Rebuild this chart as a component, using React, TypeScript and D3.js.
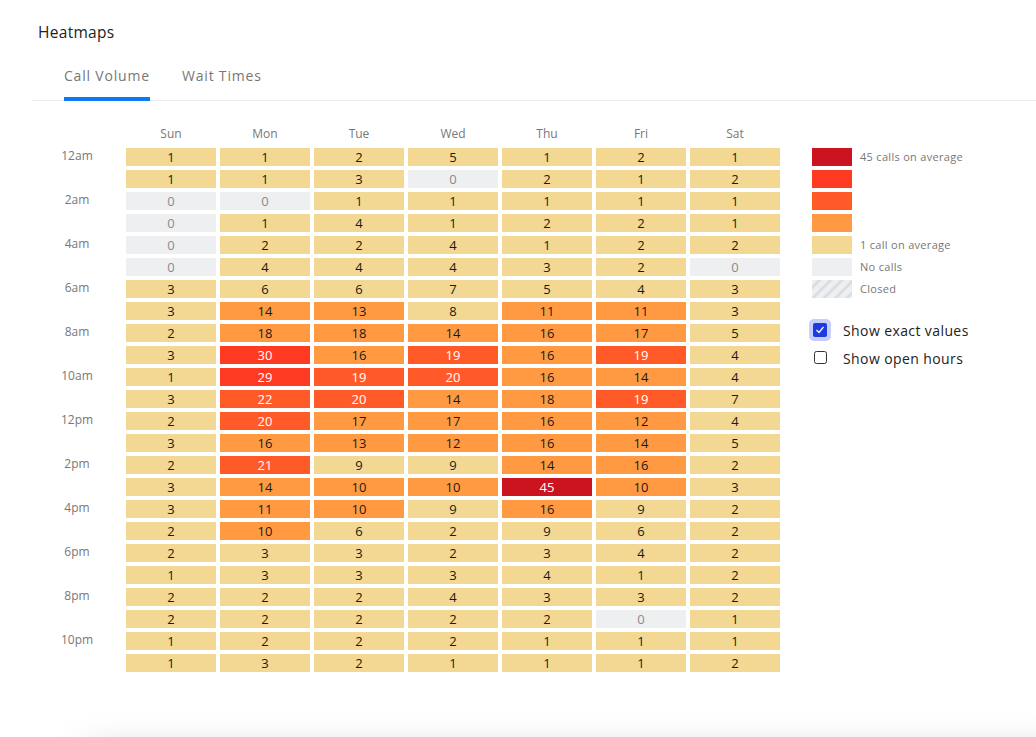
import * as d3 from "d3";
import React, { useEffect, useRef } from "react";

const days = ["Sun", "Mon", "Tue", "Wed", "Thu", "Fri", "Sat"];
const hours = [
  "12am", "1am", "2am", "3am", "4am", "5am", "6am", "7am", "8am", "9am", "10am", "11am",
  "12pm", "1pm", "2pm", "3pm", "4pm", "5pm", "6pm", "7pm", "8pm", "9pm", "10pm", "11pm",
];

// rows = hours, columns = Sun..Sat
const calls: number[][] = [
  [1, 1, 2, 5, 1, 2, 1],
  [1, 1, 3, 0, 2, 1, 2],
  [0, 0, 1, 1, 1, 1, 1],
  [0, 1, 4, 1, 2, 2, 1],
  [0, 2, 2, 4, 1, 2, 2],
  [0, 4, 4, 4, 3, 2, 0],
  [3, 6, 6, 7, 5, 4, 3],
  [3, 14, 13, 8, 11, 11, 3],
  [2, 18, 18, 14, 16, 17, 5],
  [3, 30, 16, 19, 16, 19, 4],
  [1, 29, 19, 20, 16, 14, 4],
  [3, 22, 20, 14, 18, 19, 7],
  [2, 20, 17, 17, 16, 12, 4],
  [3, 16, 13, 12, 16, 14, 5],
  [2, 21, 9, 9, 14, 16, 2],
  [3, 14, 10, 10, 45, 10, 3],
  [3, 11, 10, 9, 16, 9, 2],
  [2, 10, 6, 2, 9, 6, 2],
  [2, 3, 3, 2, 3, 4, 2],
  [1, 3, 3, 3, 4, 1, 2],
  [2, 2, 2, 4, 3, 3, 2],
  [2, 2, 2, 2, 2, 0, 1],
  [1, 2, 2, 2, 1, 1, 1],
  [1, 3, 2, 1, 1, 1, 2],
];

const colorSteps = ["#f2d892", "#ff9a42", "#ff5a27", "#ff3a22", "#cc1420"];
const thresholds = [10, 19, 28, 37];
const noCallsColor = "#eeeff1";
const legendLabels = ["45 calls on average", "", "", "", "1 call on average", "No calls", "Closed"];

const FONT = "'Open Sans', 'Noto Sans', sans-serif";

const App: React.FC = () => {
  const svgRef = useRef<SVGSVGElement | null>(null);

  useEffect(() => {
    const svg = d3.select(svgRef.current);
    svg.selectAll("*").remove();

    const color = d3.scaleThreshold<number, string>().domain(thresholds).range(colorSteps);

    const x = d3.scaleBand().domain(days).range([124, 782]).paddingInner(4 / 94).paddingOuter(2 / 94);
    const y = d3.scaleBand().domain(hours).range([146, 674]).paddingInner(4 / 22).paddingOuter(2 / 22);

    const defs = svg.append("defs");
    const pat = defs
      .append("pattern")
      .attr("id", "hatch")
      .attr("patternUnits", "userSpaceOnUse")
      .attr("width", 8)
      .attr("height", 8)
      .attr("patternTransform", "rotate(45)");
    pat.append("rect").attr("width", 8).attr("height", 8).attr("fill", "#eeeff1");
    pat.append("rect").attr("width", 3).attr("height", 8).attr("fill", "#dcdde1");

    const grad = defs
      .append("linearGradient")
      .attr("id", "shadow")
      .attr("x1", 0).attr("y1", 0).attr("x2", 0).attr("y2", 1);
    grad.append("stop").attr("offset", "0%").attr("stop-color", "#fff").attr("stop-opacity", 0);
    grad.append("stop").attr("offset", "100%").attr("stop-color", "#f4f4f4").attr("stop-opacity", 1);
    const fadeL = defs
      .append("linearGradient")
      .attr("id", "fadeL")
      .attr("x1", 0).attr("y1", 0).attr("x2", 1).attr("y2", 0);
    fadeL.append("stop").attr("offset", "0%").attr("stop-color", "#fff").attr("stop-opacity", 1);
    fadeL.append("stop").attr("offset", "100%").attr("stop-color", "#fff").attr("stop-opacity", 0);

    // header
    svg.append("text").attr("x", 38).attr("y", 38).attr("font-size", 15.5).attr("fill", "#222").attr("letter-spacing", 0.3).text("Heatmaps");
    svg.append("text").attr("x", 64).attr("y", 81).attr("font-size", 14).attr("fill", "#777").attr("letter-spacing", 0.8).text("Call Volume");
    svg.append("text").attr("x", 182).attr("y", 81).attr("font-size", 14).attr("fill", "#777").attr("letter-spacing", 0.8).text("Wait Times");
    svg.append("rect").attr("x", 32).attr("y", 100).attr("width", 1004).attr("height", 1).attr("fill", "#ececec");
    svg.append("rect").attr("x", 64).attr("y", 97).attr("width", 86).attr("height", 4).attr("fill", "#0a7bf0");

    // day labels
    svg
      .append("g")
      .selectAll("text")
      .data(days)
      .join("text")
      .attr("x", (d) => x(d)! + x.bandwidth() / 2)
      .attr("y", 138)
      .attr("text-anchor", "middle")
      .attr("font-size", 12)
      .attr("fill", "#777")
      .text((d) => d);

    // hour labels, every other hour
    svg
      .append("g")
      .selectAll("text")
      .data(hours.filter((_, i) => i % 2 === 0))
      .join("text")
      .attr("x", 77)
      .attr("y", (d) => y(d)! + y.bandwidth() / 2 + 3)
      .attr("text-anchor", "middle")
      .attr("font-size", 12)
      .attr("fill", "#777")
      .text((d) => d);

    const cells = calls.flatMap((row, i) => row.map((v, j) => ({ hour: hours[i], day: days[j], v })));

    const g = svg.append("g");
    g.selectAll("rect")
      .data(cells)
      .join("rect")
      .attr("x", (d) => x(d.day)!)
      .attr("y", (d) => y(d.hour)!)
      .attr("width", x.bandwidth())
      .attr("height", y.bandwidth())
      .attr("fill", (d) => (d.v === 0 ? noCallsColor : color(d.v)));

    g.selectAll("text")
      .data(cells)
      .join("text")
      .attr("x", (d) => x(d.day)! + x.bandwidth() / 2)
      .attr("y", (d) => y(d.hour)! + y.bandwidth() / 2 + 4.5)
      .attr("text-anchor", "middle")
      .attr("font-size", 13)
      .attr("fill", (d) => (d.v === 0 ? "#8a8a8a" : d.v >= 19 ? "#fff" : "#1a1a1a"))
      .text((d) => d.v);

    // legend
    const legendFills = [...colorSteps].reverse().concat([noCallsColor, "url(#hatch)"]);
    const ly = d3.scaleBand<number>().domain(d3.range(legendFills.length)).range([146, 300]).paddingInner(4 / 22).paddingOuter(2 / 22);
    const lg = svg.append("g");
    lg.selectAll("rect")
      .data(legendFills)
      .join("rect")
      .attr("x", 812)
      .attr("y", (_, i) => ly(i)!)
      .attr("width", 40)
      .attr("height", ly.bandwidth())
      .attr("fill", (d) => d);
    lg.selectAll("text")
      .data(legendLabels)
      .join("text")
      .attr("x", 860)
      .attr("y", (_, i) => ly(i)! + ly.bandwidth() / 2 + 4)
      .attr("font-size", 11)
      .attr("letter-spacing", 0.3)
      .attr("fill", "#777")
      .text((d) => d);

    // checkboxes
    svg.append("rect").attr("x", 809).attr("y", 319).attr("width", 22).attr("height", 22).attr("rx", 5).attr("fill", "#c7cffc");
    svg.append("rect").attr("x", 813).attr("y", 323).attr("width", 14).attr("height", 14).attr("rx", 2).attr("fill", "#1d3be0");
    svg.append("path").attr("d", "M816.5 330 L819 332.5 L823.5 327").attr("fill", "none").attr("stroke", "#fff").attr("stroke-width", 1.2);
    svg.append("text").attr("x", 843).attr("y", 336).attr("font-size", 14).attr("letter-spacing", 0.4).attr("fill", "#222").text("Show exact values");
    svg.append("rect").attr("x", 814.5).attr("y", 351.5).attr("width", 12).attr("height", 12).attr("rx", 2).attr("fill", "#fff").attr("stroke", "#333").attr("stroke-width", 1);
    svg.append("text").attr("x", 843).attr("y", 364).attr("font-size", 14).attr("letter-spacing", 0.4).attr("fill", "#222").text("Show open hours");

    // bottom shadow of next card
    svg.append("rect").attr("x", 60).attr("y", 710).attr("width", 976).attr("height", 27).attr("fill", "url(#shadow)");
    svg.append("rect").attr("x", 60).attr("y", 710).attr("width", 60).attr("height", 27).attr("fill", "url(#fadeL)");
  }, []);

  return (
    <svg
      ref={svgRef}
      width={1036}
      height={737}
      style={{ position: "absolute", left: 0, top: 0, fontFamily: FONT, background: "#fff" }}
    />
  );
};

export default App;
